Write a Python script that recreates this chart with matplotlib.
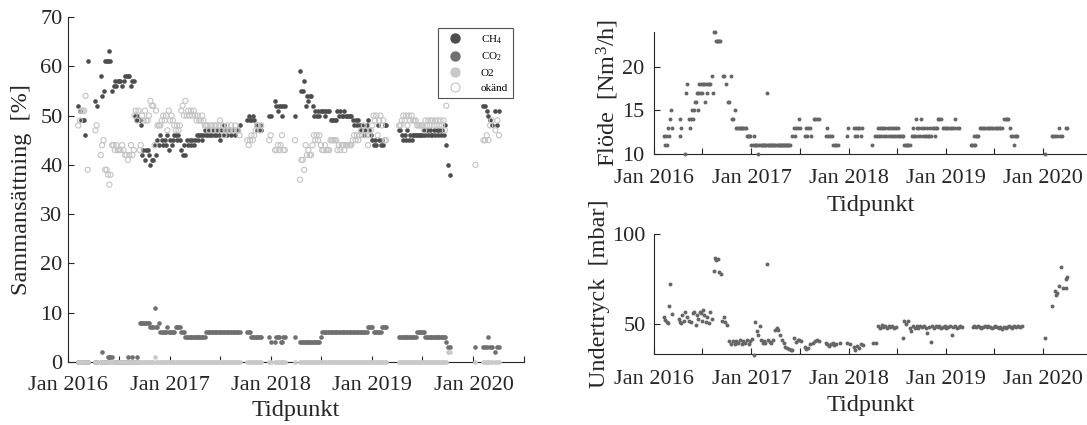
import numpy as np
import matplotlib
matplotlib.use("Agg")
import matplotlib.pyplot as plt
import matplotlib.dates as mdates
from matplotlib.ticker import FuncFormatter
from matplotlib.lines import Line2D

plt.rcParams['font.family'] = ['Liberation Serif', 'DejaVu Serif']
plt.rcParams['mathtext.fontset'] = 'custom'
plt.rcParams['mathtext.rm'] = 'Liberation Serif'
plt.rcParams['mathtext.it'] = 'Liberation Serif:italic'

# ---------------- data: gas composition (days since 2016-01-01) ----------------
comp_days = [
    37, 43, 48, 53, 58, 63, 71,
    99, 103,
    118, 123, 128, 134, 139, 144, 149, 153, 159, 164,
    169, 174, 179, 184, 189, 195, 200, 206, 211, 216,
    221, 227, 232, 237,
    240, 244, 249, 254, 258, 262, 267, 272, 277, 282,
    287, 292, 297, 302, 307, 312, 317, 322, 328, 333,
    338, 343, 348, 353, 358, 363, 368, 373, 378, 383,
    388, 393, 398, 403, 408, 413, 418, 423, 428, 433,
    438, 443, 448, 453, 458, 463, 468, 473, 478, 483,
    488, 493, 498, 503, 508, 513, 518, 523, 528, 533,
    538, 543, 548, 553, 558, 563, 568, 573, 578, 583,
    588, 593, 598, 603, 608, 613, 618,
    646, 651, 656, 661, 666, 671, 676, 681, 686, 691,
    696,
    725, 730,
    746, 751, 756, 761, 766, 771, 776, 781,
    818,
    836, 841, 846, 851, 856, 861, 866, 871, 876, 881,
    886, 891, 896, 901, 906, 911, 916, 921, 926, 931,
    936, 941, 946, 951, 956, 961, 966, 971, 976, 981,
    986, 991, 996, 1001, 1006, 1011, 1016, 1021, 1026, 1031,
    1036, 1041, 1046, 1051, 1056, 1061, 1066, 1071, 1076, 1081,
    1086, 1091, 1096, 1101, 1106, 1111, 1116, 1121, 1126, 1131,
    1136, 1141, 1146,
    1193, 1198, 1203, 1208, 1213, 1218, 1223, 1228, 1233, 1238,
    1243, 1248, 1253, 1258, 1263, 1268, 1273, 1278, 1283, 1288,
    1293, 1298, 1303, 1308, 1313, 1318, 1323, 1328, 1333, 1338,
    1343, 1348, 1353, 1358, 1363, 1370, 1378,
    1468, 1497, 1503, 1509, 1515, 1521, 1527, 1540, 1547, 1553,
]
nan = np.nan
ch4 = [
    52, 51, 49, 49, 49, 46, 61,
    53, 52,
    58, 54, 55, 61, 61, 61, 63, 61, 55, 56,
    57, 56, 57, 57, 57, 56, 57, 58, 58, 58,
    58, 56, 57, 57,
    50, 49, 50, 49, 49, 48, 42, 43, 41, 43,
    43, 42, 40, 41, 41, 44, 42, 45, 44, 46,
    45, 44, 45, 44, 46, 43, 45, 44, 45, 46,
    46, 45, 46, 45, 43, 42, 44, 42, 45, 44,
    45, 44, 45, 44, 45, 46, 45, 46, 46, 45,
    46, 47, 46, 46, 47, 46, 46, 47, 46, 46,
    47, 46, 45, 47, 46, 48, 47, 46, 47, 47,
    46, 47, 47, 46, 47, 47, 48,
    49, 50, 49, 49, 50, 49, 48, 47, 47, 48,
    47,
    50, 50,
    53, 52, 51, 52, 52, 50, 52, 52,
    50,
    59, 55, 55, 57, 52, 54, 53, 54, 54, 52,
    50, 51, 50, 51, 50, 51, 51, 51, 50, 51,
    51, 51, 49, 49, 49, 49, 49, 51, 50, 51,
    50, 50, 51, 50, 50, 50, 50, 50, 49, 48,
    49, 48, 49, 48, 47, 48, 46, 47, 48, 49,
    47, 46, 45, 44, 45, 44, 48, 45, 44, 45,
    44, 48, 48,
    47, 47, 46, 45, 46, 45, 47, 45, 46, 45,
    46, 46, 46, 46, 46, 46, 46, 46, 47, 46,
    47, 46, 47, 46, 46, 47, 46, 47, 46, 47,
    46, 47, 46, 48, 44, 40, 38,
    nan, 52, 52, 51, 50, 49, 48, 51, 48, 51,
]
co2 = [
    0, 0, 0, 0, 0, 0, 0,
    0, 0,
    0, 2, 0, 0, 0, 1, 1, 1, 1, 0,
    0, 0, 0, 0, 0, 0, 0, 0, 0, 1,
    0, 0, 1, 0,
    0, 0, 1, 0, 8, 8, 8, 8, 8, 8,
    8, 8, 7, 7, 7, 11, 7, 7, 8, 6,
    6, 6, 6, 6, 7, 6, 6, 6, 6, 6,
    7, 7, 7, 7, 6, 6, 6, 5, 5, 5,
    5, 5, 5, 5, 5, 5, 5, 5, 5, 5,
    5, 5, 6, 6, 6, 6, 6, 6, 6, 6,
    6, 6, 6, 6, 6, 6, 6, 6, 6, 6,
    6, 6, 6, 6, 6, 6, 6,
    6, 6, 6, 5, 5, 5, 5, 5, 5, 5,
    5,
    5, 4,
    4, 5, 5, 5, 4, 4, 5, 5,
    5,
    4, 4, 4, 4, 4, 4, 4, 4, 4, 4,
    4, 4, 4, 4, 4, 5, 6, 6, 6, 6,
    6, 6, 6, 6, 6, 6, 6, 6, 6, 6,
    6, 6, 6, 6, 6, 6, 6, 6, 6, 6,
    6, 6, 6, 6, 6, 6, 6, 6, 6, 7,
    7, 7, 7, 6, 6, 6, 6, 6, 6, 7,
    7, 7, 7,
    5, 5, 5, 5, 5, 5, 5, 5, 5, 5,
    5, 5, 5, 6, 6, 6, 6, 6, 6, 5,
    5, 5, 5, 5, 5, 5, 5, 5, 5, 5,
    5, 5, 5, 5, 4, 3, 3,
    3, 3, 3, 3, 5, 3, 3, 2, 3, 3,
]
o2 = [
    0, 0, 0, 0, 0, 0, 0,
    0, 0,
    0, 0, 0, 0, 0, 0, 0, 0, 0, 0,
    0, 0, 0, 0, 0, 0, 0, 0, 0, 0,
    0, 0, 0, 0,
    0, 0, 0, 0, 0, 0, 0, 0, 0, 0,
    0, 0, 0, 0, 0, 1, 0, 0, 0, 0,
    0, 0, 0, 0, 0, 0, 0, 0, 0, 0,
    0, 0, 0, 0, 0, 0, 0, 0, 0, 0,
    0, 0, 0, 0, 0, 0, 0, 0, 0, 0,
    0, 0, 0, 0, 0, 0, 0, 0, 0, 0,
    0, 0, 0, 0, 0, 0, 0, 0, 0, 0,
    0, 0, 0, 0, 0, 0, 0,
    0, 0, 0, 0, 0, 0, 0, 0, 0, 0,
    0,
    0, 0,
    0, 0, 0, 0, 0, 0, 0, 0,
    0,
    0, 0, 0, 0, 0, 0, 0, 0, 0, 0,
    0, 0, 0, 0, 0, 0, 0, 0, 0, 0,
    0, 0, 0, 0, 0, 0, 0, 0, 0, 0,
    0, 0, 0, 0, 0, 0, 0, 0, 0, 0,
    0, 0, 0, 0, 0, 0, 0, 0, 0, 0,
    0, 0, 0, 0, 0, 0, 0, 0, 0, 0,
    0, 0, 0,
    0, 0, 0, 0, 0, 0, 0, 0, 0, 0,
    0, 0, 0, 0, 0, 0, 0, 0, 0, 0,
    0, 0, 0, 0, 0, 0, 0, 0, 0, 0,
    0, 0, 0, 0, 0, 2, 2,
    0, 0, 0, 0, 0, 0, 0, 0, 0, 0,
]
okand = [
    48, 49, 51, 51, 51, 54, 39,
    47, 48,
    42, 44, 45, 39, 39, 38, 36, 38, 44, 44,
    43, 44, 43, 43, 43, 44, 43, 42, 42, 41,
    42, 44, 42, 43,
    50, 51, 49, 51, 43, 44, 50, 49, 51, 49,
    49, 50, 53, 52, 52, 44, 51, 48, 48, 48,
    49, 50, 49, 50, 47, 51, 49, 50, 49, 48,
    47, 48, 47, 48, 51, 52, 50, 53, 50, 51,
    50, 51, 50, 51, 50, 49, 50, 49, 49, 50,
    49, 48, 48, 48, 47, 48, 48, 47, 48, 48,
    47, 48, 49, 47, 48, 46, 47, 48, 47, 47,
    48, 47, 47, 48, 47, 47, 46,
    45, 44, 45, 46, 45, 46, 47, 48, 48, 47,
    48,
    45, 46,
    43, 43, 44, 43, 44, 46, 43, 43,
    45,
    37, 41, 41, 39, 44, 42, 43, 42, 42, 44,
    46, 45, 46, 45, 46, 44, 43, 43, 44, 43,
    43, 43, 45, 45, 45, 45, 45, 43, 44, 43,
    44, 44, 43, 44, 44, 44, 44, 44, 45, 46,
    45, 46, 45, 46, 47, 46, 48, 47, 46, 44,
    46, 47, 48, 50, 49, 50, 46, 49, 50, 48,
    49, 45, 45,
    48, 48, 49, 50, 49, 50, 48, 50, 49, 50,
    49, 49, 49, 48, 48, 48, 48, 48, 47, 49,
    48, 49, 48, 49, 49, 48, 49, 48, 49, 48,
    49, 48, 49, 47, 52, nan, nan,
    40, 45, 45, 46, 45, 48, 49, 47, 49, 46,
]

# ---------------- data: flow ----------------
flow_days = [
    39, 42, 46, 49, 53, 56, 59, 63, 66, 96,
    99, 102, 118, 121, 125, 130, 135, 138, 143, 147,
    151, 155, 158, 161, 164, 167, 170, 174, 177, 181,
    184, 188, 192, 196, 200, 204, 208, 212, 217, 221,
    224, 229, 233, 237, 241, 245, 249, 258, 264, 270,
    276, 280, 289, 292, 296, 303, 309, 313, 318, 322,
    327, 331, 335, 340, 344, 349, 353, 357, 362, 366,
    370, 374, 378, 382, 386, 392, 396, 400, 404, 408,
    412, 416, 420, 424, 428, 432, 436, 440, 444, 448,
    452, 456, 460, 464, 468, 472, 476, 480, 484, 488,
    492, 496, 500, 504, 508, 512, 520, 525, 530, 534,
    539, 545, 549, 566, 570, 574, 579, 585, 590, 601,
    606, 612, 618, 645, 650, 655, 661, 667, 673, 679,
    685, 691, 723, 727, 750, 753, 757, 761, 766, 771,
    776, 781, 819, 831, 836, 841, 845, 849, 853, 857,
    861, 865, 869, 873, 877, 881, 885, 889, 893, 897,
    901, 905, 909, 913, 917, 921, 925, 930, 934, 940,
    945, 950, 955, 960, 967, 971, 975, 979, 983, 987,
    991, 995, 999, 1002, 1006, 1010, 1014, 1018, 1022, 1026,
    1030, 1034, 1038, 1042, 1046, 1050, 1054, 1058, 1062, 1066,
    1072, 1079, 1084, 1090, 1096, 1102, 1108, 1114, 1120, 1126,
    1131, 1138, 1144, 1190, 1195, 1200, 1203, 1207, 1210, 1214,
    1218, 1223, 1229, 1235, 1241, 1247, 1253, 1259, 1265, 1271,
    1277, 1283, 1289, 1295, 1301, 1307, 1315, 1320, 1325, 1330,
    1335, 1342, 1346, 1350, 1354, 1358, 1364, 1467, 1493, 1500,
    1506, 1513, 1519, 1526, 1532, 1546, 1552,
]
flow = [
    12, 11, 12, 11, 13, 12, 14, 15, 13, 12,
    14, 13, 10, 17, 18, 14, 13, 14, 15, 14,
    15, 16, 16, 17, 15, 17, 18, 17, 18, 17,
    18, 18, 16, 18, 17, 18, 18, 18, 19, 17,
    24, 24, 23, 23, 23, 23, 23, 19, 19, 18,
    16, 16, 19, 14, 14, 15, 13, 13, 13, 13,
    13, 13, 13, 13, 13, 12, 12, 12, 12, 11,
    11, 12, 11, 11, 11, 10, 11, 11, 11, 11,
    11, 11, 11, 17, 11, 11, 11, 11, 11, 11,
    11, 11, 11, 11, 11, 11, 11, 11, 11, 11,
    11, 11, 11, 11, 11, 11, 12, 13, 12, 13,
    13, 14, 13, 12, 13, 12, 13, 13, 12, 14,
    14, 14, 14, 12, 13, 12, 12, 12, 11, 11,
    11, 11, 12, 13, 13, 12, 13, 12, 13, 13,
    12, 13, 11, 12, 12, 13, 12, 13, 12, 13,
    13, 12, 13, 12, 13, 12, 13, 12, 13, 12,
    13, 12, 13, 12, 13, 12, 12, 12, 12, 11,
    11, 11, 11, 11, 12, 13, 12, 12, 14, 13,
    12, 13, 12, 14, 13, 12, 13, 12, 12, 13,
    12, 12, 13, 12, 13, 13, 12, 13, 13, 14,
    14, 14, 13, 13, 13, 13, 13, 13, 13, 13,
    14, 13, 13, 11, 11, 11, 12, 11, 12, 12,
    12, 13, 13, 13, 13, 13, 13, 13, 13, 13,
    13, 13, 13, 13, 13, 13, 14, 14, 14, 14,
    13, 12, 12, 11, 12, 12, 12, 10, 12, 12,
    12, 12, 13, 12, 12, 13, 13,
]

# ---------------- data: negative pressure ----------------
press_days = [
    39, 43, 47, 53, 57, 60, 66, 92, 96, 100,
    105, 112, 118, 125, 132, 138, 145, 151, 158, 160,
    164, 171, 175, 179, 184, 189, 195, 200, 205, 210,
    216, 224, 230, 234, 239, 243, 250, 256, 263, 267,
    274, 283, 289, 296, 303, 309, 316, 322, 329, 335,
    342, 349, 355, 362, 368, 375, 381, 388, 392, 397,
    402, 408, 414, 418, 424, 427, 434, 441, 447, 454,
    460, 467, 473, 480, 487, 493, 500, 507, 513, 520,
    526, 533, 539, 546, 552, 566, 572, 579, 585, 598,
    605, 611, 618, 645, 651, 658, 664, 671, 677, 684,
    697, 723, 737, 750, 756, 763, 769, 776, 783, 822,
    835, 842, 848, 855, 861, 868, 875, 881, 888, 895,
    901, 908, 934, 940, 946, 953, 960, 966, 973, 980,
    987, 993, 999, 1006, 1013, 1020, 1026, 1032, 1039, 1045,
    1052, 1058, 1065, 1071, 1078, 1084, 1091, 1097, 1104, 1110,
    1118, 1124, 1131, 1137, 1144, 1150, 1157, 1197, 1203, 1210,
    1216, 1223, 1229, 1236, 1242, 1249, 1255, 1262, 1268, 1275,
    1281, 1288, 1294, 1301, 1307, 1314, 1320, 1327, 1333, 1340,
    1346, 1353, 1359, 1366, 1373, 1381, 1467, 1496, 1506, 1510,
    1514, 1519, 1530, 1535, 1546, 1548, 1552,
]
press = [
    54.3, 52.4, 51.5, 50.6, 60.4, 72.2, 55.6, 53.0, 51.5, 50.5,
    55.0, 52.0, 57.0, 54.0, 52.0, 51.0, 56.0, 57.0, 49.6, 55.0,
    53.0, 57.0, 56.0, 52.0, 58.0, 55.0, 51.0, 54.0, 50.5, 57.0,
    53.0, 79.6, 87.0, 85.6, 86.0, 79.3, 77.8, 52.0, 54.0, 51.5,
    49.6, 40.7, 39.0, 40.5, 38.9, 40.7, 39.5, 41.0, 38.9, 40.5,
    39.5, 41.3, 39.0, 40.7, 42.0, 33.0, 51.5, 46.0, 44.0, 49.0,
    41.0, 39.5, 40.5, 39.5, 83.3, 41.0, 40.0, 39.5, 41.0, 46.9,
    47.8, 46.9, 44.0, 41.0, 39.5, 37.6, 36.7, 36.0, 35.7, 35.7,
    42.2, 40.4, 41.3, 41.0, 40.7, 37.6, 36.5, 36.7, 38.9, 39.5,
    40.7, 41.3, 40.5, 39.5, 38.9, 38.1, 38.9, 39.5, 38.5, 38.9,
    39.5, 39.5, 39.0, 37.5, 35.7, 38.1, 36.7, 39.0, 38.5, 39.5,
    39.5, 49.0, 48.0, 49.6, 48.5, 49.0, 48.0, 49.0, 48.5, 49.0,
    48.0, 48.5, 42.2, 52.0, 50.0, 52.0, 48.0, 46.0, 49.0, 47.8,
    49.0, 48.0, 49.0, 48.5, 49.0, 48.0, 45.0, 48.5, 40.4, 49.0,
    48.0, 49.0, 48.5, 49.0, 48.0, 48.5, 49.0, 48.0, 48.5, 49.0,
    44.0, 48.5, 49.0, 48.0, 48.5, 49.0, 48.5, 48.5, 49.0, 48.5,
    49.0, 48.5, 48.0, 48.5, 49.0, 48.5, 49.0, 48.5, 48.0, 48.5,
    49.0, 48.5, 48.0, 48.5, 47.5, 48.5, 48.0, 48.5, 49.0, 48.5,
    48.0, 49.0, 48.5, 49.0, 48.5, 49.0, 42.2, 60.4, 68.5, 66.3,
    67.5, 71.5, 82.0, 70.0, 70.0, 75.2, 76.5,
]

comp_labels = ['CH$_4$', 'CO$_2$', 'O2', 'okänd']
comp_yticks = [0, 10, 20, 30, 40, 50, 60, 70]
flow_yticks = [10, 15, 20]
press_yticks = [50, 100]

START = np.datetime64('2016-01-01')


def as_dates(days):
    return START + np.asarray(days).astype('timedelta64[D]')


TXT = '#262626'


def jan_fmt(x, pos):
    d = mdates.num2date(x)
    return d.strftime('Jan %Y') if d.month == 1 else ''


def style(ax, xpad, ypad):
    for s in ['top', 'right']:
        ax.spines[s].set_visible(False)
    for s in ['left', 'bottom']:
        ax.spines[s].set_color(TXT)
        ax.spines[s].set_linewidth(0.8)
    ax.xaxis.set_major_locator(mdates.MonthLocator(bymonth=[1, 7]))
    ax.xaxis.set_major_formatter(FuncFormatter(jan_fmt))
    ax.tick_params(direction='in', length=4, width=0.8, colors=TXT,
                   labelsize=16)
    ax.tick_params(axis='x', pad=xpad)
    ax.tick_params(axis='y', pad=ypad)


fig = plt.figure(figsize=(10.87, 4.25), dpi=100)

# ---------- left: composition ----------
ax = fig.add_axes([0.06256, 0.14824, 0.41950, 0.81176])
d = as_dates(comp_days)
kw = dict(s=11, linewidths=0, clip_on=False, zorder=3)
ax.scatter(d, ch4, color='#4d4d4d', **kw)
ax.scatter(d, co2, color='#707070', **kw)
ax.scatter(d, o2, color='#c9c9c9', **kw)
ax.scatter(d, okand, facecolors='none', edgecolors='#c4c4c4', s=14,
           linewidths=0.8, clip_on=False, zorder=3)
ax.set_xlim(np.datetime64('2016-01-01'), np.datetime64('2020-07-01'))
ax.set_ylim(0, 70)
ax.set_yticks(comp_yticks)
style(ax, 10, 4)
ax.set_xlabel('Tidpunkt', fontsize=17.5, color=TXT, labelpad=3.5)
ax.set_ylabel('Sammansättning  [%]', fontsize=17.5, color=TXT, labelpad=6)

handles = [
    Line2D([], [], ls='none', marker='o', ms=6.5, mfc='#4d4d4d', mec='#4d4d4d'),
    Line2D([], [], ls='none', marker='o', ms=6.5, mfc='#707070', mec='#707070'),
    Line2D([], [], ls='none', marker='o', ms=6.5, mfc='#c9c9c9', mec='#c9c9c9'),
    Line2D([], [], ls='none', marker='o', ms=6.5, mfc='none', mec='#c4c4c4', mew=0.8),
]
leg = ax.legend(handles, comp_labels, loc='upper right',
                bbox_to_anchor=(0.976, 0.968), borderaxespad=0,
                fontsize=8, frameon=True, fancybox=False,
                handletextpad=1.2, labelspacing=0.45, borderpad=0.45,
                handlelength=2.2)
leg.get_frame().set_edgecolor(TXT)
leg.get_frame().set_linewidth(0.8)

# ---------- right top: flow ----------
ax2 = fig.add_axes([0.60166, 0.63882, 0.39834, 0.28541])
ax2.scatter(as_dates(flow_days), flow, color='#666666', s=8, linewidths=0,
            clip_on=False, zorder=3)
ax2.set_xlim(np.datetime64('2016-01-01'), np.datetime64('2020-06-14'))
ax2.set_ylim(10, 24)
ax2.set_yticks(flow_yticks)
style(ax2, 11.5, 7)
ax2.set_xlabel('Tidpunkt', fontsize=17.5, color=TXT, labelpad=4.5)
ax2.set_ylabel('Flöde  [Nm$^3$/h]', fontsize=17.5, color=TXT, labelpad=1)

# ---------- right bottom: pressure ----------
ax3 = fig.add_axes([0.60166, 0.16706, 0.39834, 0.28165])
ax3.scatter(as_dates(press_days), press, color='#666666', s=8, linewidths=0,
            clip_on=False, zorder=3)
ax3.set_xlim(np.datetime64('2016-01-01'), np.datetime64('2020-06-14'))
ax3.set_ylim(33.5, 100)
ax3.set_yticks(press_yticks)
style(ax3, 11.5, 6)
ax3.set_xlabel('Tidpunkt', fontsize=17.5, color=TXT, labelpad=4.5)
ax3.set_ylabel('Undertryck  [mbar]', fontsize=17.5, color=TXT, labelpad=2)

fig.savefig('out.png', dpi=100)
